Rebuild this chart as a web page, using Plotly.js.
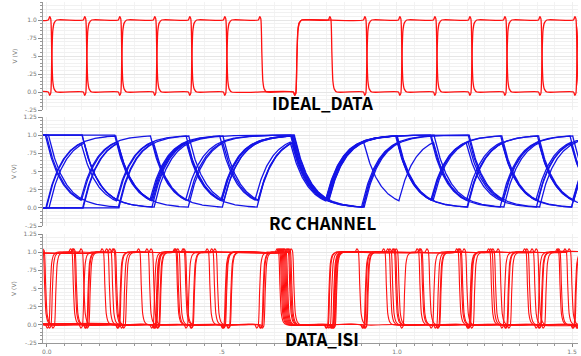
<!DOCTYPE html>
<html><head><meta charset="utf-8">
<script src="https://cdn.plot.ly/plotly-3.0.1.min.js"></script>
<style>html,body{margin:0;padding:0;background:#fff}#chart{width:581px;height:356px}</style>
</head><body><div id="chart"></div>
<script>
// ---- data ----
const xTickVals = [0, 0.5, 1.0, 1.5];
const xTickText = ['0.0', '.5', '1.0', '1.5'];
const yTickValsTop = [-0.25, 0, 0.25, 0.5, 0.75, 1.0];
const yTickTextTop = ['-.25', '0.0', '.25', '.5', '.75', '1.0'];
const yTickVals = [-0.25, 0, 0.25, 0.5, 0.75, 1.0, 1.25];
const yTickText = ['-.25', '0.0', '.25', '.5', '.75', '1.0', '1.25'];
const panelLabels = ['IDEAL_DATA', 'RC CHANNEL', 'DATA_ISI'];
const bitTime = 0.1;            // one bit per 0.1 on the time axis
const idealEdgeStart = 0.01;    // first ideal edge
// ideal data: two overlaid sweeps (bit before edge 0, then one bit per interval)
const idealA = [1,0,1,0,1,0,1,0,1,0,1,0,1,0,1,0,1];
const idealB = [0,1,0,1,0,1,0,0,1,1,0,1,0,1,0,1,0];
// channel sweeps: bits per interval (shared by RC CHANNEL and DATA_ISI)
const isiBits = [
  [1, 0,1,1,0,1,1, 1,0,1,1, 0,1,1,0,1,0],
  [0, 1,0,1,1,0,1, 1,0,0,1, 1,0,1,0,0,1],
  [1, 1,0,0,1,0,1, 1,0,1,1, 0,0,1,0,1,1],
  [0, 0,1,0,1,1,0, 1,0,0,1, 0,1,0,1,1,0],
  [1, 0,0,1,0,1,1, 1,0,1,0, 1,0,1,1,0,1],
  [0, 1,1,0,1,0,1, 1,0,1,1, 0,1,0,0,1,0],
  [1, 1,0,1,0,0,1, 1,0,0,1, 0,0,1,1,0,1],
  [0, 0,1,0,0,1,0, 1,0,1,1, 1,1,0,1,0,0],
  [1, 1,1,0,1,1,0, 1,0,1,1, 1,0,0,1,1,0],
  [0, 1,0,0,1,1,1, 1,0,0,1, 1,1,0,0,1,1],
  [1, 0,1,0,1,0,0, 1,0,1,1, 0,1,1,0,0,1],
  [0, 0,0,1,1,0,1, 1,0,1,1, 1,0,0,1,0,1]
];
const isiRiseShift = [0.000, 0.004, 0.008, 0.012, 0.016, 0.020, 0.006, 0.014, 0.002, 0.010, 0.018, 0.022];
const isiFallShift = [-0.036, -0.030, -0.024, -0.018, -0.012, -0.006, 0.000, -0.027, -0.040, -0.021, -0.009, -0.033];
const rcSkew = [-0.004, -0.002, 0.000, 0.002, 0.004, -0.003, 0.001, 0.003, -0.006, 0.006, -0.001, 0.005];
const rcTau = 0.045;

// ---- drawing helpers ----
const shapeT = [-0.006, -0.002, 0.001, 0.004, 0.007, 0.011, 0.018];
const riseV  = [0, -0.045, -0.02, 0.45, 0.85, 0.96, 1.0];

function digital(bits, edgeTime, stretch) {
  const x = [-0.1], y = [bits[0]];
  for (let k = 0; k < bits.length - 1; k++) {
    const a = bits[k], b = bits[k + 1];
    if (a === b) continue;
    const rising = b > a;
    const te = edgeTime(k, rising);
    for (let s = 0; s < shapeT.length; s++) {
      x.push(te + shapeT[s] * stretch);
      y.push(rising ? riseV[s] : 1 - riseV[s]);
    }
  }
  x.push(1.6); y.push(bits[bits.length - 1]);
  return {x, y};
}

function rcResponse(bits, skew) {
  const x = [], y = [];
  const dt = 0.0015;
  let v = bits[0];
  const decay = Math.exp(-dt / rcTau);
  for (let t = -0.1; t <= 1.56; t += dt) {
    let idx = Math.floor((t - skew) / bitTime) + 1;
    idx = Math.max(0, Math.min(bits.length - 1, idx));
    const u = bits[idx];
    x.push(t); y.push(v);
    v = u + (v - u) * decay;
  }
  return {x, y};
}

const traces = [];
[idealA, idealB].forEach(bits => {
  const d = digital(bits, k => idealEdgeStart + bitTime * k, 1);
  traces.push({x: d.x, y: d.y, xaxis: 'x', yaxis: 'y', mode: 'lines',
    line: {color: '#ff1010', width: 1.3, shape: 'spline', smoothing: 0.6}, hoverinfo: 'skip'});
});
isiBits.forEach((bits, j) => {
  const d = rcResponse(bits, rcSkew[j]);
  traces.push({x: d.x, y: d.y, xaxis: 'x2', yaxis: 'y2', mode: 'lines',
    line: {color: '#1414e6', width: 1.3}, hoverinfo: 'skip'});
});
isiBits.forEach((bits, j) => {
  const d = digital(bits, (k, rising) => bitTime * k + (rising ? isiRiseShift[j] : isiFallShift[j]), 1.4);
  traces.push({x: d.x, y: d.y, xaxis: 'x3', yaxis: 'y3', mode: 'lines',
    line: {color: '#ff1010', width: 1.1, shape: 'spline', smoothing: 0.6}, hoverinfo: 'skip'});
});

const xRange = [-0.011, 1.517];
function xAxis(anchor, showLabels) {
  return {
    anchor: anchor, range: xRange, domain: [0, 1],
    showgrid: true, gridcolor: '#efefef', gridwidth: 1,
    tickvals: xTickVals, ticktext: xTickText,
    showticklabels: showLabels, ticks: showLabels ? 'outside' : '',
    ticklen: 3, tickcolor: '#888',
    showline: showLabels, linecolor: '#999', linewidth: 1,
    tickfont: {family: 'DejaVu Sans', size: 6, color: '#777'},
    zeroline: false, fixedrange: true,
    minor: {dtick: 0.05, tick0: 0, ticks: showLabels ? 'outside' : '', ticklen: 2, tickcolor: '#999',
            showgrid: true, gridcolor: '#f3f3f3'}
  };
}
function yAxis(anchor, domain, tv, tt) {
  return {
    anchor: anchor, domain: domain, range: [-0.25, 1.25],
    tickvals: tv, ticktext: tt,
    ticks: 'outside', ticklen: 4, tickcolor: '#888',
    showline: true, linecolor: '#999', linewidth: 1,
    tickfont: {family: 'DejaVu Sans', size: 6, color: '#777'},
    showgrid: true, gridcolor: '#e6e6e6', zeroline: false, fixedrange: true,
    minor: {dtick: 0.05, tick0: 0, ticks: 'outside', ticklen: 2, tickcolor: '#999',
            showgrid: true, gridcolor: '#f1f1f1'},
    title: {text: 'V (V)', font: {family: 'DejaVu Sans', size: 6, color: '#777'}, standoff: 6}
  };
}

const labelY = [0.70, 0.35, 0.012];
const annotations = panelLabels.map((t, i) => ({
  text: '<b>' + t + '</b>', xref: 'paper', yref: 'paper', x: 0.5215, y: labelY[i],
  xanchor: 'center', yanchor: 'middle', showarrow: false,
  font: {family: 'Noto Sans CJK KR', size: 17, color: '#000'}
}));

// plot area is 343 px tall (t=0, b=13); panel pixel spans 2-110, 117-226, 234-343
const layout = {
  width: 581, height: 356,
  margin: {l: 43, r: 3, t: 0, b: 13},
  paper_bgcolor: '#fff', plot_bgcolor: '#fff',
  showlegend: false,
  xaxis: xAxis('y', false),
  xaxis2: xAxis('y2', false),
  xaxis3: xAxis('y3', true),
  yaxis: yAxis('x', [(343 - 110) / 343, (343 - 2) / 343], yTickValsTop, yTickTextTop),
  yaxis2: yAxis('x2', [(343 - 226) / 343, (343 - 117) / 343], yTickVals, yTickText),
  yaxis3: yAxis('x3', [0.0, (343 - 234) / 343], yTickVals, yTickText),
  annotations: annotations
};
Plotly.newPlot('chart', traces, layout, {staticPlot: true, displayModeBar: false});
</script></body></html>
